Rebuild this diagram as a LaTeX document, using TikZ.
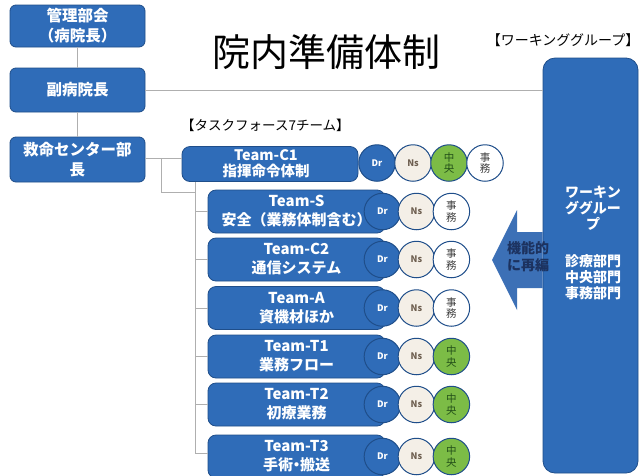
\documentclass[tikz,border=0pt]{standalone}
\usepackage{fontspec}
\setmainfont{Noto Sans CJK JP}
\definecolor{boxblue}{RGB}{47,108,184}
\definecolor{boxedge}{RGB}{31,78,138}
\definecolor{arrowblue}{RGB}{60,112,182}
\definecolor{navytext}{RGB}{28,50,95}
\definecolor{nsfill}{RGB}{244,239,231}
\definecolor{nstext}{RGB}{110,95,80}
\definecolor{chuofill}{RGB}{124,188,70}
\definecolor{chuotext}{RGB}{35,80,25}
\definecolor{connline}{RGB}{175,175,175}
\tikzset{
  lbox/.style={draw=boxedge, fill=boxblue, rounded corners=6pt, text=white, align=center,
    inner sep=0pt, line width=0.8pt, minimum width=135pt, font=\bfseries\fontsize{15.5}{20}\selectfont},
  tbox/.style={draw=boxedge, fill=boxblue, rounded corners=8pt, text=white, align=center,
    inner sep=0pt, line width=0.8pt, minimum width=177pt, minimum height=43pt,
    font=\bfseries\fontsize{15}{19}\selectfont},
  circ/.style={circle, draw=boxedge, line width=1pt, minimum size=36.5pt, inner sep=0pt, align=center},
  drc/.style={circ, fill=boxblue, text=white, font=\bfseries\fontsize{9}{9}\selectfont},
  nsc/.style={circ, fill=nsfill, text=nstext, font=\bfseries\fontsize{9}{9}\selectfont},
  chuoc/.style={circ, fill=chuofill, text=chuotext, font=\fontsize{10.5}{11.5}\selectfont},
  jimuc/.style={circ, fill=white, text=black!75, font=\fontsize{10.5}{11.5}\selectfont},
  conn/.style={draw=connline, line width=0.7pt},
}
\begin{document}
\begin{tikzpicture}[x=1pt,y=-1pt]
\useasboundingbox (0,0) rectangle (640,475);
\clip (0,0) rectangle (640,475);
\fill[white] (0,0) rectangle (640,475);

% title and labels
\node (title) at (326,52) {\fontsize{38}{40}\selectfont 院内準備体制};
\node[anchor=west, inner sep=0pt] (tflabel) at (181,125) {\fontsize{13.5}{14}\selectfont 【タスクフォース7チーム】};
\node[anchor=east, inner sep=0pt] (wglabel) at (639.5,40) {\fontsize{14}{15}\selectfont 【ワーキンググループ】};

% left column
\node[lbox, minimum height=42pt] (mgmt) at (77.5,26) {管理部会\\（病院長）};
\node[lbox, minimum height=44pt] (vice) at (77.5,90) {副病院長};
\node[lbox, minimum height=45pt] (lead) at (77.5,159.5) {救命センター部\\長};

% working group
\node[draw=boxedge, fill=boxblue, rounded corners=12pt, line width=0.8pt,
  minimum width=95pt, minimum height=415pt, inner sep=0pt] (wg) at (590.5,265.5) {};
\node[text=white, align=center, inner sep=0pt, font=\bfseries\fontsize{14}{16}\selectfont] (wgtext) at (593,243)
  {ワーキン\\ググルー\\プ\\[21pt]診療部門\\中央部門\\事務部門};

% team C1
\node[tbox, minimum width=176pt, minimum height=35pt] (c1) at (270,164) {};
\node[text=white, align=center, inner sep=0pt, font=\bfseries\fontsize{14.5}{16}\selectfont] (c1text) at (266,164) {Team-C1\\指揮命令体制};
\node[drc] (c1dr) at (377,163) {Dr};
\node[nsc] (c1ns) at (413,163) {Ns};
\node[chuoc] (c1ch) at (449,163) {中\\央};
\node[jimuc] (c1ji) at (485,163) {事\\務};

% other teams
\node[tbox] (ts) at (296.5,211.5) {Team-S\\安全（業務体制含む）};
\node[tbox] (tc2) at (296.5,259.5) {Team-C2\\通信システム};
\node[tbox] (ta) at (296.5,308) {Team-A\\資機材ほか};
\node[tbox] (tt1) at (296.5,356.5) {Team-T1\\業務フロー};
\node[tbox] (tt2) at (296.5,404.5) {Team-T2\\初療業務};
\node[tbox] (tt3) at (296.5,456.5) {Team-T3\\手術\kern-4pt・\kern-4pt 搬送};

\foreach \r in {ts,tc2,ta,tt1,tt2,tt3}{
  \node[drc] (\r dr) at ([xshift=-3pt]\r.east) {Dr};
  \node[nsc] (\r ns) at ([xshift=31pt]\r.east) {Ns};
}
\foreach \r in {ts,tc2,ta}{
  \node[jimuc] (\r ji) at ([xshift=66pt]\r.east) {事\\務};
}
\foreach \r in {tt1,tt2,tt3}{
  \node[chuoc] (\r ch) at ([xshift=66pt]\r.east) {中\\央};
}

% connectors
\draw[conn] (mgmt.south) -- (vice.north);
\draw[conn] (vice.south) -- (lead.north);
\draw[conn] (vice.east) -- (vice.east -| wg.west);
\coordinate (j1) at (161,158);
\coordinate (j2) at (195,192);
\draw[conn] (lead.east |- j1) -- (j1 -| c1.west);
\draw[conn] (j1) |- (j2);
\draw[conn] (j2 |- c1.south) |- ([yshift=3pt]tt3.west);
\foreach \r in {ts,tc2,ta,tt1,tt2}{
  \draw[conn] (j2 |- \r.west) -- (\r.west);
}

% arrow
\fill[arrowblue] (wg.west |- 0,232) -- (517,232) -- (517,210) -- (492,260) -- (517,310) -- (517,288) -- (wg.west |- 0,288) -- cycle;
\node[text=navytext, align=center, inner sep=0pt, font=\bfseries\fontsize{14}{17}\selectfont] (arrowtext) at (528,257) {機能的\\に再編};
\end{tikzpicture}
\end{document}
